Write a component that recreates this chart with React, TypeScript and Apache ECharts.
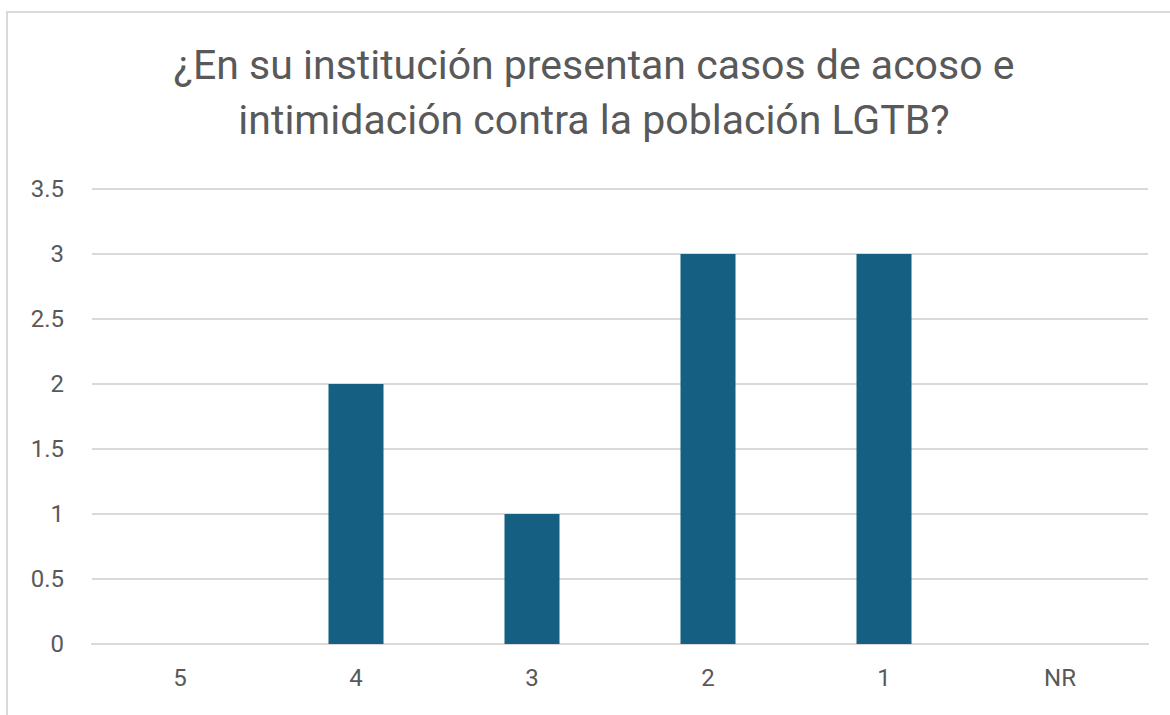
import React, { useEffect, useRef } from "react";
import * as echarts from "echarts";

const categories = ["5", "4", "3", "2", "1", "NR"];
const values = [0, 2, 1, 3, 3, 0];
const titleLines = [
  "¿En su institución presentan casos de acoso e",
  "intimidación contra la población LGTB?",
];

export default function App() {
  const ref = useRef<HTMLDivElement>(null);
  useEffect(() => {
    if (!ref.current) return;
    const chart = echarts.init(ref.current, undefined, { renderer: "svg" });
    chart.setOption({
      animation: false,
      backgroundColor: "#ffffff",
      graphic: [
        {
          type: "rect",
          shape: { x: 7, y: 12, width: 1200, height: 760 },
          style: { fill: "none", stroke: "#d9d9d9", lineWidth: 2 },
          silent: true,
        },
        {
          type: "text",
          x: 594,
          y: 92,
          style: {
            text: titleLines.join("\n"),
            textAlign: "center",
            textVerticalAlign: "middle",
            font: "41px Roboto",
            lineHeight: 55,
            fill: "#595959",
          },
        },
      ],
      grid: { left: 92, right: 22, top: 189, bottom: 71 },
      xAxis: {
        type: "category",
        data: categories,
        axisLine: { show: true, lineStyle: { color: "#d9d9d9", width: 2 } },
        axisTick: { show: false },
        axisLabel: {
          color: "#595959",
          fontSize: 24,
          fontFamily: "Roboto",
          margin: 22,
        },
      },
      yAxis: {
        type: "value",
        min: 0,
        max: 3.5,
        interval: 0.5,
        axisLine: { show: false },
        axisTick: { show: false },
        splitLine: { lineStyle: { color: "#d9d9d9", width: 2 } },
        axisLabel: {
          color: "#595959",
          fontSize: 24,
          fontFamily: "Roboto",
          margin: 28,
        },
      },
      series: [
        {
          type: "bar",
          data: values,
          barWidth: 55,
          itemStyle: { color: "#155f82" },
        },
      ],
    });
    return () => chart.dispose();
  }, []);
  return (
    <div
      ref={ref}
      style={{ position: "fixed", left: 0, top: 0, width: 1170, height: 715 }}
    />
  );
}
